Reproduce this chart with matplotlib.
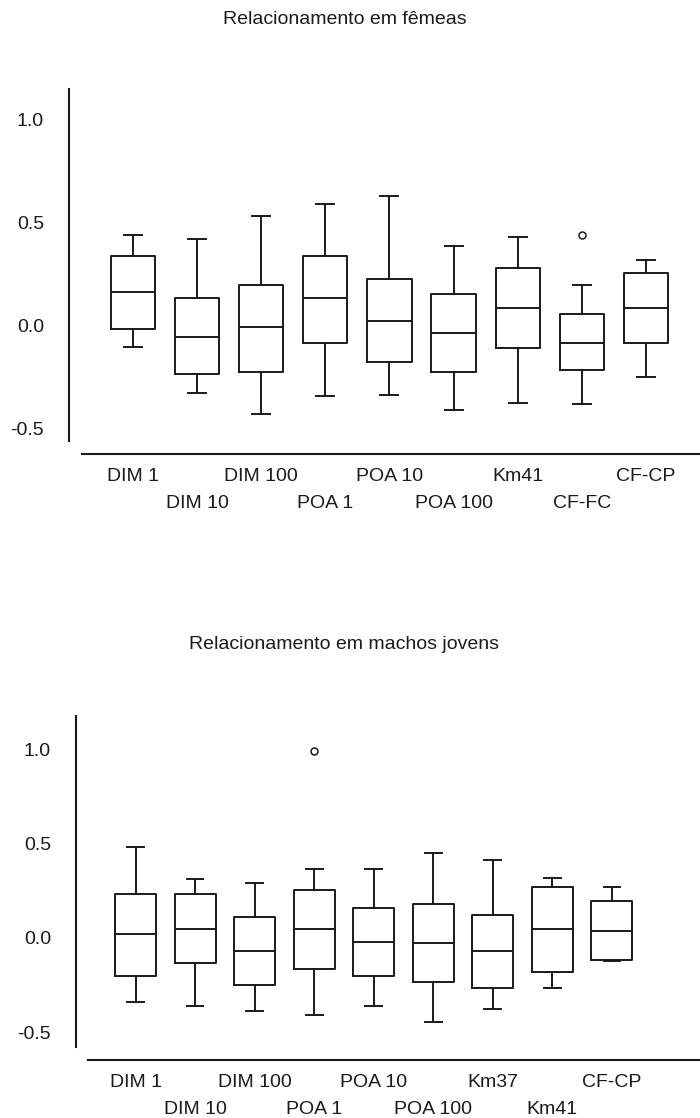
import matplotlib
matplotlib.use("Agg")
import matplotlib.pyplot as plt

plt.rcParams['font.family'] = ['Liberation Sans', 'DejaVu Sans']

# femeas
labels_f = ["DIM 1", "DIM 10", "DIM 100", "POA 1", "POA 10", "POA 100", "Km41", "CF-FC", "CF-CP"]
hi_f  = [0.437, 0.417, 0.531, 0.587, 0.625, 0.382, 0.429, 0.194, 0.316]
q3_f  = [0.337, 0.129, 0.196, 0.337, 0.223, 0.149, 0.277, 0.055, 0.251]
med_f = [0.159, -0.057, -0.011, 0.129, 0.021, -0.039, 0.083, -0.087, 0.083]
q1_f  = [-0.019, -0.238, -0.227, -0.087, -0.181, -0.228, -0.113, -0.217, -0.087]
lo_f  = [-0.105, -0.330, -0.432, -0.346, -0.338, -0.413, -0.377, -0.383, -0.251]
out_f = [[], [], [], [], [], [], [], [0.439], []]

# machos jovens
labels_m = ["DIM 1", "DIM 10", "DIM 100", "POA 1", "POA 10", "POA 100", "Km37", "Km41", "CF-CP"]
hi_m  = [0.479, 0.309, 0.288, 0.366, 0.366, 0.451, 0.413, 0.318, 0.270]
q3_m  = [0.231, 0.231, 0.111, 0.251, 0.159, 0.177, 0.118, 0.270, 0.194]
med_m = [0.018, 0.044, -0.069, 0.044, -0.021, -0.030, -0.069, 0.044, 0.035]
q1_m  = [-0.201, -0.136, -0.249, -0.164, -0.201, -0.237, -0.269, -0.182, -0.117]
lo_m  = [-0.343, -0.362, -0.389, -0.408, -0.362, -0.447, -0.378, -0.269, -0.124]
out_m = [[], [], [], [0.989], [], [], [], [], []]

yticks = [-0.5, 0.0, 0.5, 1.0]
ytick_labels = ["-0.5", "0.0", "0.5", "1.0"]

fig = plt.figure(figsize=(7, 11.18), dpi=100)
ink = '#1a1a1a'
fs = 14


def panel(rect, labels, lo, q1, med, q3, hi, outs, xmax, ylim, title, title_y):
    ax = fig.add_axes(rect)
    stats = []
    for i in range(len(labels)):
        stats.append(dict(med=med[i], q1=q1[i], q3=q3[i], whislo=lo[i],
                          whishi=hi[i], fliers=outs[i], label=labels[i]))
    pos = list(range(1, len(labels) + 1))
    ax.bxp(stats, positions=pos, widths=0.69, capwidths=0.28,
           boxprops=dict(color=ink, linewidth=1.4),
           medianprops=dict(color=ink, linewidth=1.4),
           whiskerprops=dict(color=ink, linewidth=1.4),
           capprops=dict(color=ink, linewidth=1.4),
           flierprops=dict(marker='o', markersize=5, markerfacecolor='white',
                           markeredgecolor=ink, markeredgewidth=1.1))
    ax.set_xlim(0, xmax)
    ax.set_ylim(ylim)
    for s in ['top', 'right']:
        ax.spines[s].set_visible(False)
    ax.spines['left'].set_linewidth(1.5)
    ax.spines['left'].set_color(ink)
    ax.spines['bottom'].set_linewidth(1.5)
    ax.spines['bottom'].set_color(ink)
    ax.spines['bottom'].set_position(('outward', 9.2))
    ax.spines['bottom'].set_bounds(0.2, xmax)

    ax.set_yticks(yticks)
    ax.set_yticklabels(ytick_labels)
    ax.tick_params(axis='y', length=0, pad=18, labelsize=fs, colors=ink)

    # labels alternate between two rows
    ax.set_xticks(pos[0::2])
    ax.set_xticklabels(labels[0::2])
    ax.set_xticks(pos[1::2], minor=True)
    ax.set_xticklabels(labels[1::2], minor=True)
    ax.tick_params(axis='x', which='major', length=0, pad=10.5, labelsize=fs, colors=ink)
    ax.tick_params(axis='x', which='minor', length=0, pad=30, labelsize=fs, colors=ink)

    fig.text(0.492, title_y, title, ha='center', va='baseline', fontsize=fs, color=ink)
    return ax


panel([69/700, 1 - 441/1118, 631/700, 352/1118], labels_f, lo_f, q1_f, med_f, q3_f, hi_f,
      out_f, 9.845, (-0.563, 1.146), "Relacionamento em fêmeas", 1 - 24/1118)
panel([76/700, 1 - 1047/1118, 624/700, 331/1118], labels_m, lo_m, q1_m, med_m, q3_m, hi_m,
      out_m, 10.48, (-0.579, 1.175), "Relacionamento em machos jovens", 1 - 649/1118)

plt.savefig("out.png", dpi=100)
